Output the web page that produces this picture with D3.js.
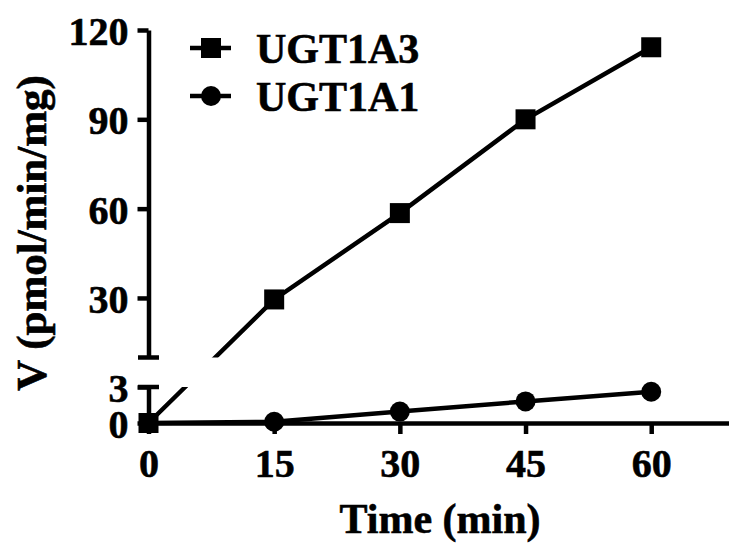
<!DOCTYPE html>
<html>
<head>
<meta charset="utf-8">
<script src="https://cdn.jsdelivr.net/npm/d3@7"></script>
<style>
  body { margin: 0; background: #fff; }
  text { font-family: "Liberation Serif", "Times New Roman", serif; font-weight: bold; fill: #000; stroke: #000; stroke-width: 0.6px; }
</style>
</head>
<body>
<div id="chart"></div>
<script>
// data
var times = [0, 15, 30, 45, 60];
var ugt1a3 = [0, 29.5, 58.5, 90, 114.2];
var ugt1a1 = [0, 0.1, 0.95, 1.8, 2.6];
var xTicks = [0, 15, 30, 45, 60];
var yTicksHigh = [30, 60, 90, 120];
var yTicksLow = [0, 3];

var svgWidth = 729;
var svgHeight = 544;

var svg = d3.select("#chart")
    .append("svg")
    .attr("width", svgWidth)
    .attr("height", svgHeight);

var xScale = d3.scaleLinear().domain([0, 70]).range([148.5, 735]);
// broken y axis: two segments
var yLow = d3.scaleLinear().domain([0, 3]).range([423, 387]);
var yHigh = d3.scaleLinear().domain([10, 120]).range([357.5, 30]);
var yPos = v => v <= 3 ? yLow(v) : yHigh(v);

// clip that hides the gap between the segments
var clip = svg.append("defs").append("clipPath").attr("id", "gapclip");
clip.append("rect").attr("x", 0).attr("y", 0).attr("width", svgWidth).attr("height", yHigh(10));
clip.append("rect").attr("x", 0).attr("y", yLow(3)).attr("width", svgWidth).attr("height", svgHeight - yLow(3));

var axisW = 4.5;
var fmt = d3.format("d");

// x axis
var xAxis = svg.append("g")
    .attr("transform", `translate(0,${yLow(0)})`)
    .call(d3.axisBottom(xScale).tickValues(xTicks).tickFormat(fmt).tickSize(11).tickPadding(14).tickSizeOuter(0));
xAxis.select(".domain").attr("stroke-width", axisW);
xAxis.selectAll(".tick line").attr("stroke-width", axisW);
xAxis.selectAll(".tick text").style("font-size", "40px").attr("dy", "0.72em");

// y axis upper segment
var yAxisHigh = svg.append("g")
    .attr("transform", `translate(${xScale(0)},0)`)
    .call(d3.axisLeft(yHigh).tickValues(yTicksHigh).tickFormat(fmt).tickSize(11).tickPadding(9).tickSizeOuter(0));
// y axis lower segment
var yAxisLow = svg.append("g")
    .attr("transform", `translate(${xScale(0)},0)`)
    .call(d3.axisLeft(yLow).tickValues(yTicksLow).tickFormat(fmt).tickSize(11).tickPadding(9).tickSizeOuter(0));
[yAxisHigh, yAxisLow].forEach(function(g) {
    g.select(".domain").attr("stroke-width", axisW);
    g.selectAll(".tick line").attr("stroke-width", axisW);
    g.selectAll(".tick text").style("font-size", "40px").attr("dy", "0.36em");
});

// end caps of the segments at the break
[yHigh(10), yLow(3)].forEach(function(y) {
    svg.append("line")
        .attr("x1", xScale(0) - 10.5).attr("x2", xScale(0) + 10.5)
        .attr("y1", y).attr("y2", y)
        .attr("stroke", "#000").attr("stroke-width", axisW);
});

var line = d3.line()
    .x(d => xScale(d[0]))
    .y(d => yPos(d[1]));

var s3 = times.map((t, i) => [t, ugt1a3[i]]);
var s1 = times.map((t, i) => [t, ugt1a1[i]]);

svg.append("path")
    .datum(s3)
    .attr("d", line)
    .attr("fill", "none").attr("stroke", "#000").attr("stroke-width", 4.5)
    .attr("clip-path", "url(#gapclip)");
svg.append("path")
    .datum(s1)
    .attr("d", line)
    .attr("fill", "none").attr("stroke", "#000").attr("stroke-width", 4.5)
    .attr("clip-path", "url(#gapclip)");

svg.selectAll(".sq")
    .data(s3)
    .enter()
    .append("rect")
    .attr("x", d => xScale(d[0]) - 10)
    .attr("y", d => yPos(d[1]) - 10)
    .attr("width", 20).attr("height", 20)
    .attr("fill", "#000");

svg.selectAll(".dot")
    .data(s1.slice(1))
    .enter()
    .append("circle")
    .attr("cx", d => xScale(d[0]))
    .attr("cy", d => yPos(d[1]))
    .attr("r", 10)
    .attr("fill", "#000");

// legend
var legend = svg.append("g");
legend.append("line").attr("x1", 190).attr("x2", 231).attr("y1", 48).attr("y2", 48)
    .attr("stroke", "#000").attr("stroke-width", 4.5);
legend.append("rect").attr("x", 201).attr("y", 38).attr("width", 20).attr("height", 20).attr("fill", "#000");
legend.append("text").attr("x", 256).attr("y", 63).style("font-size", "42px").text("UGT1A3");
legend.append("line").attr("x1", 190).attr("x2", 231).attr("y1", 96).attr("y2", 96)
    .attr("stroke", "#000").attr("stroke-width", 4.5);
legend.append("circle").attr("cx", 211).attr("cy", 96).attr("r", 10).attr("fill", "#000");
legend.append("text").attr("x", 256).attr("y", 111).style("font-size", "42px").text("UGT1A1");

// axis titles
svg.append("text")
    .attr("transform", "translate(46,233) rotate(-90)")
    .style("text-anchor", "middle")
    .style("font-size", "43px")
    .text("V (pmol/min/mg)");

svg.append("text")
    .attr("x", 440)
    .attr("y", 533)
    .style("text-anchor", "middle")
    .style("font-size", "42px")
    .text("Time (min)");
</script>
</body>
</html>
